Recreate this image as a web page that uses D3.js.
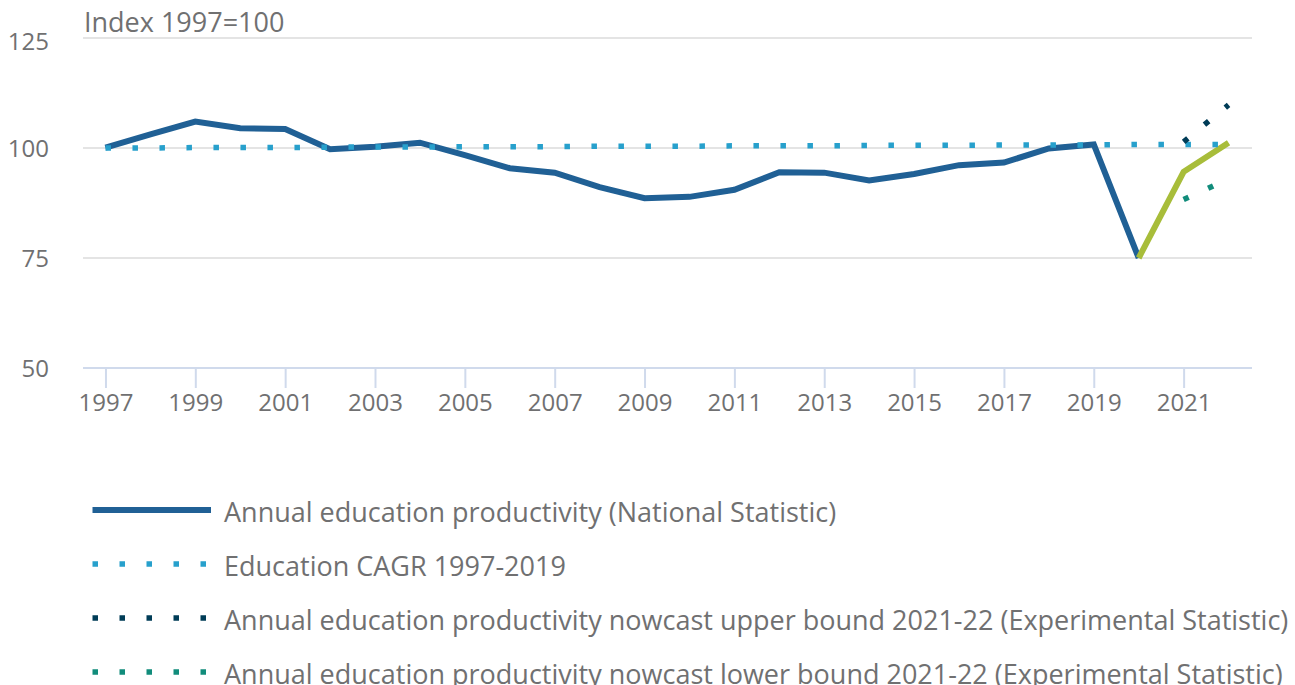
<!DOCTYPE html>
<html>
<head>
<meta charset="utf-8">
<script src="https://cdn.jsdelivr.net/npm/d3@7"></script>
<style>
  html, body { margin: 0; padding: 0; background: #fff; }
  svg { display: block; font-family: "Open Sans", sans-serif; }
</style>
</head>
<body>
<svg id="chart" width="1295" height="685"></svg>
<script>
// ---- Data ----
const years = [1997,1998,1999,2000,2001,2002,2003,2004,2005,2006,2007,2008,2009,2010,2011,2012,2013,2014,2015,2016,2017,2018,2019,2020,2021,2022];
const tickYears = [1997,1999,2001,2003,2005,2007,2009,2011,2013,2015,2017,2019,2021];
const yTicks = [50,75,100,125];

const nationalYears = [1997,1998,1999,2000,2001,2002,2003,2004,2005,2006,2007,2008,2009,2010,2011,2012,2013,2014,2015,2016,2017,2018,2019,2020];
const nationalValues = [100.1,103.1,106.0,104.5,104.3,99.7,100.3,101.2,98.4,95.4,94.4,91.1,88.6,88.9,90.5,94.5,94.4,92.6,94.1,96.1,96.7,99.9,100.8,75.0];

const nowcastYears = [2020,2021,2022];
const nowcastValues = [75.0,94.6,101.2];

const cagrYears = years;
const cagrValues = [100.0,100.0,100.1,100.1,100.1,100.2,100.2,100.2,100.3,100.3,100.3,100.4,100.4,100.4,100.5,100.5,100.5,100.6,100.6,100.6,100.7,100.7,100.7,100.8,100.8,100.8];

const upperYears = [2021,2022];
const upperValues = [101.4,109.8];
const lowerYears = [2021,2022];
const lowerValues = [88.3,93.0];

const seriesNames = [
  "Annual education productivity (National Statistic)",
  "Education CAGR 1997-2019",
  "Annual education productivity nowcast upper bound 2021-22 (Experimental Statistic)",
  "Annual education productivity nowcast lower bound 2021-22 (Experimental Statistic)"
];
const yLabel = "Index 1997=100";

// ---- Styles ----
const C = {
  national: "#206095",
  nowcast: "#a8bd3a",
  cagr: "#27a0cc",
  upper: "#003c57",
  lower: "#118c7b",
  grid: "#e4e4e4",
  axis: "#d0daec",
  text: "#707071"
};

const svg = d3.select("#chart");
const x = d3.scalePoint().domain(years).range([83, 1251]).padding(0.5);
const y = d3.scaleLinear().domain([50, 125]).range([368, 38]);

// gridlines
svg.append("g").selectAll("line")
  .data(yTicks.filter(d => d !== 50))
  .join("line")
  .attr("x1", 83).attr("x2", 1252)
  .attr("y1", d => y(d)).attr("y2", d => y(d))
  .attr("stroke", C.grid).attr("stroke-width", 2);

// y labels
svg.append("g").selectAll("text")
  .data(yTicks)
  .join("text")
  .attr("x", 49)
  .attr("y", d => y(d) + (d === 125 ? 4 : 1))
  .attr("dy", "0.35em")
  .attr("text-anchor", "end")
  .attr("fill", C.text)
  .attr("font-size", 24)
  .text(d => d);

// title
svg.append("text")
  .attr("x", 84).attr("y", 32)
  .attr("fill", C.text)
  .attr("font-size", 27)
  .text(yLabel);

// x axis
const xAxis = d3.axisBottom(x).tickValues(tickYears).tickSize(20).tickPadding(6).tickFormat(d3.format("d"));
const gx = svg.append("g").attr("transform", `translate(0,${y(50)})`).call(xAxis);
gx.select(".domain").remove();
gx.selectAll(".tick line").attr("stroke", C.axis).attr("stroke-width", 2);
gx.selectAll(".tick text").attr("fill", C.text).attr("font-size", 24).attr("font-family", "Open Sans");
svg.append("line")
  .attr("x1", 83).attr("x2", 1252)
  .attr("y1", y(50)).attr("y2", y(50))
  .attr("stroke", C.axis).attr("stroke-width", 2);

const line = d3.line().x(d => x(d[0])).y(d => y(d[1]));
const zip = (a, b) => a.map((v, i) => [v, b[i]]);

// national
svg.append("path").datum(zip(nationalYears, nationalValues))
  .attr("d", line).attr("fill", "none")
  .attr("stroke", C.national).attr("stroke-width", 6).attr("stroke-linejoin", "miter");
// nowcast
svg.append("path").datum(zip(nowcastYears, nowcastValues))
  .attr("d", line).attr("fill", "none")
  .attr("stroke", C.nowcast).attr("stroke-width", 6);
// CAGR
svg.append("path").datum(zip(cagrYears, cagrValues))
  .attr("d", line).attr("fill", "none")
  .attr("stroke", C.cagr).attr("stroke-width", 5.5).attr("stroke-dasharray", "5.5,21.5");
// upper
svg.append("path").datum(zip(upperYears, upperValues))
  .attr("d", line).attr("fill", "none")
  .attr("stroke", C.upper).attr("stroke-width", 5.5).attr("stroke-dasharray", "5.5,21.5");
// lower
svg.append("path").datum(zip(lowerYears, lowerValues))
  .attr("d", line).attr("fill", "none")
  .attr("stroke", C.lower).attr("stroke-width", 5.5).attr("stroke-dasharray", "5.5,21.5");

// legend
const legendColors = [C.national, C.cagr, C.upper, C.lower];
const lg = svg.append("g").selectAll("g")
  .data(seriesNames)
  .join("g")
  .attr("transform", (d, i) => `translate(0,${510 + i * 54})`);
lg.append("line")
  .attr("x1", 92.5).attr("x2", 211)
  .attr("y1", 0).attr("y2", 0)
  .attr("stroke", (d, i) => legendColors[i])
  .attr("stroke-width", (d, i) => i === 0 ? 6 : 5.5)
  .attr("stroke-dasharray", (d, i) => i === 0 ? null : "5.5,21.5");
lg.append("text")
  .attr("x", 224).attr("y", 11.5)
  .attr("fill", C.text)
  .attr("font-size", 27)
  .text(d => d);
</script>
</body>
</html>
